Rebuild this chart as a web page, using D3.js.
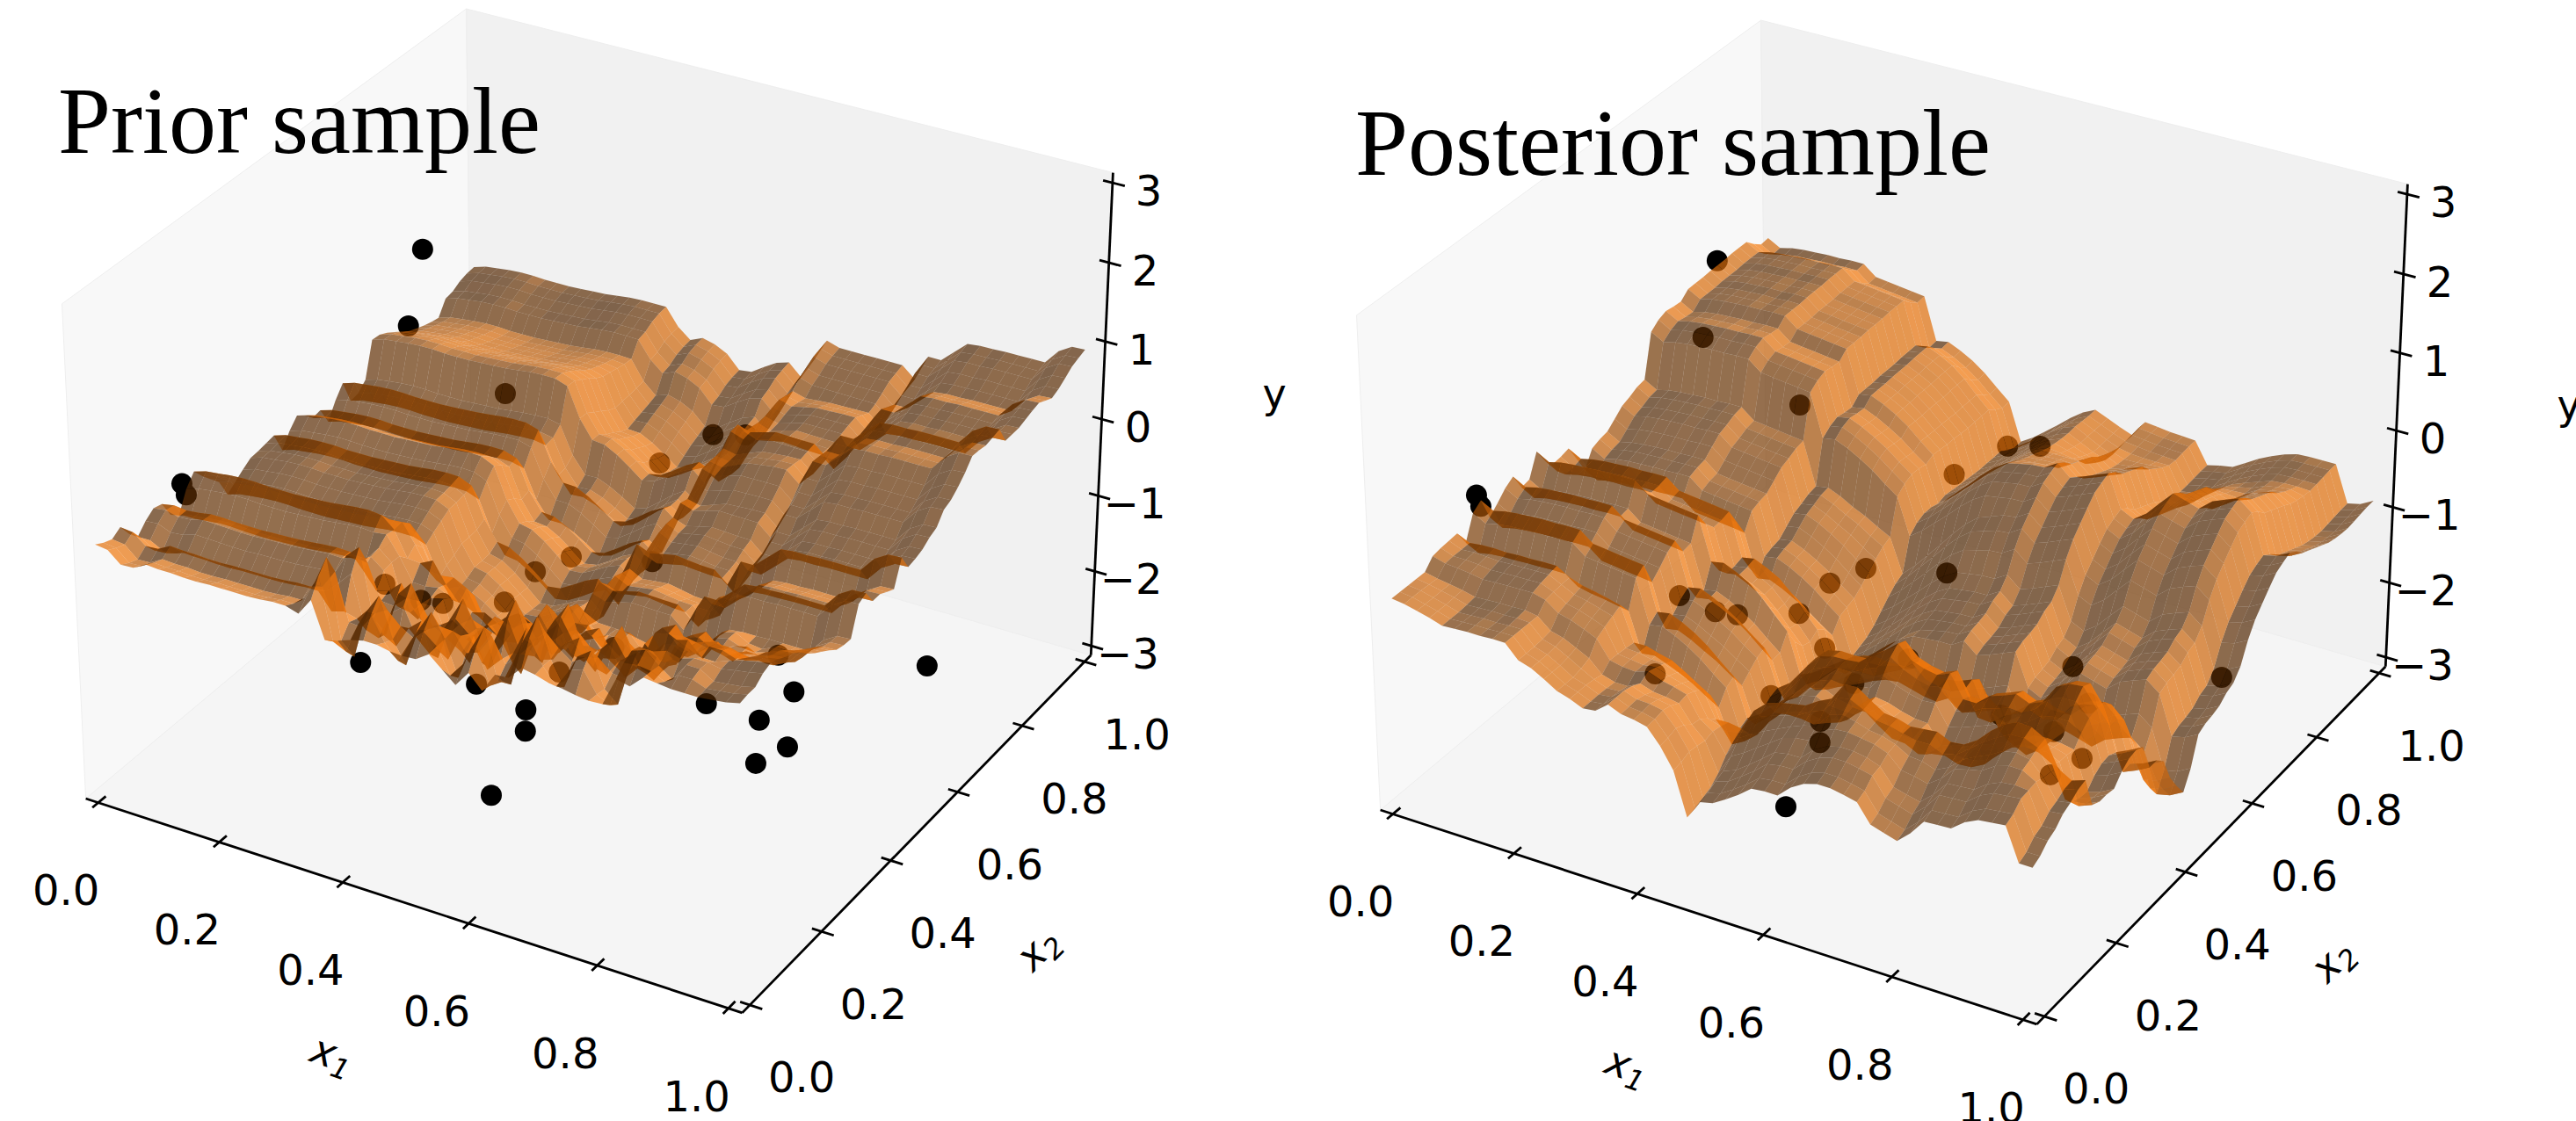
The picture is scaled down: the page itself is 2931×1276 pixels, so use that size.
<!DOCTYPE html>
<html><head><meta charset="utf-8">
<style>
body { margin: 0; background: #fff; overflow: hidden; }
text { fill: #000; font-family: "DejaVu Sans"; }
</style></head>
<body>
<div id="chart"></div>
<script src="https://cdn.jsdelivr.net/npm/d3@7"></script>
<script>
// tick labels
var x1Ticks = [0, 0.2, 0.4, 0.6, 0.8, 1];
var x2Ticks = [0, 0.2, 0.4, 0.6, 0.8, 1];
var yTicks = [-3, -2, -1, 0, 1, 2, 3];

// observed points, same in both panels
var pointX1 = [0.017,0.066,0.231,0.009,0.019,0.461,0.502,0.456,0.249,0.315,0.346,0.435,0.458,0.418,0.583,0.610,0.308,0.475,0.557,0.567,0.594,0.616,0.791,0.873,0.938,0.921,0.879,1.0,0.815,0.496];
var pointX2 = [0.829,0.708,0.702,0.201,0.196,0.901,0.924,0.753,0.341,0.329,0.337,0.439,0.499,0.383,0.508,0.354,0.181,0.212,0.296,0.189,0.142,0.015,0.290,0.289,0.249,0.192,0.376,0.535,0.449,0.321];
var pointY = [0.75,0.3,-0.2,0.1,0,-1,-1,-0.8,-1.2,-1.2,-1.2,-1,-1,-1.2,-0.8,-1.2,-1.4,-1.4,-1.4,-1.4,-1.4,-1.6,-1.2,-1.2,-1.2,-1.2,-1.2,-1.25,-1.2,-1.2];

// surface heights read along the four edges of each 50x50 surface
var priorFront = [.12,.10,-.04,-.03,.06,.05,.05,.04,.04,.05,.05,.05,.05,.06,.08,.08,.03,.25,-.2,-.16,-.1,-.06,-.06,-.09,-.1,-.09,.02,-.12,-.26,-.06,-.23,.02,.03,.2,.17,.12,.1,.07,.05,.06,.42,.38,.54,.52,.5,.5,.5,.52,.54,.58];
var priorBack = [-.15,-.1,-.08,-.06,-.05,-.05,-.06,-.06,-.06,-.05,-.04,-.03,-.01,.01,.02,.02,.02,-.2,-.33,-.26,-.3,-.38,-.55,-.53,-.42,-.32,-.27,-.42,-.15,.15,.1,.1,.1,.1,.1,.1,-.04,.3,.3,.45,.6,.62,.62,.63,.63,.63,.63,.82,.92,.93];
var priorLeft = [.12,.06,.02,.09,-.08,-.2,-.08,0,-.03,-.25,-.34,-.08,.06,-.08,-.2,-.32,-.56,-.48,-.4,-.33,-.32,-.3,-.28,-.55,-.38,-.26,-.34,-.45,-.43,-.66,-.46,-.31,-.62,-.6,-.5,-.05,-.06,-.11,-.18,-.26,-.32,-.36,-.4,-.43,-.45,-.27,-.25,-.19,-.16,-.15];
var priorRight = [.58,.6,.6,.68,.72,.68,.62,.58,.5,.4,.32,.25,.18,.10,.07,.06,.41,.46,.28,.28,.22,.17,.48,.28,.3,.33,.40,.44,.58,.62,.70,.80,.93,.92,.90,.92,.94,.72,.72,.72,.75,.78,.80,.75,.70,.74,.80,.87,.9,.93];
// zigzag of the folded strip just behind the front edge of the prior
var priorChopX1 = [0,0,0,0,0,0,0,0,0,0,0,0,0,0,0,0,.3,.45,-.1,-.3,.25,.45,-.05,-.3,.2,.45,.05,-.25,.3,.4,-.05,-.3,.3,.45,0,-.25,.2,.35,-.05,-.2,.15,.25,-.05,-.15,.1,.1,0,0,0,0];
var priorChopX2 = [0,.6,1,.3,-.6,.6,1,.3,-.5,.4,.7,.2,-.3,.2,.3,0,0,0,0,0,0,0,0,0,0,0,0,0,0,0,0,0,0,0,0,0,0,0,0,0,0,0,0,0,0,0,0,0,0,0];
// the light wall and trough in the middle of the prior
var priorMidX1 = [0,0,0,0,0,0,0,0,0,0,0,0,0,0,0,0,-.05,-.2,-.3,-.38,-.42,-.45,-.4,-.38,-.38,-.36,-.32,-.3,-.2,-.1,-.1,-.05,0,0,0,0,0,0,0,0,0,0,0,0,0,0,0,0,0,0];
var priorMidX2 = [0,0,0,0,0,0,0,0,0,0,0,0,0,0,.3,.6,1,1,1,1,1,1,1,1,1,1,1,1,1,1,1,1,1,1,1,1,1,1,1,1,1,.8,.6,.4,.2,0,0,0,0,0];

var postFront = [-.42,-.44,-.48,-.52,-.57,-.56,-.55,-.55,-.54,-.54,-.71,-.76,-.85,-.95,-1.0,-1.07,-1.05,-.92,-.99,-1.01,-1.05,-1.24,-1.5,-2.05,-1.8,-1.76,-1.66,-1.55,-1.42,-1.4,-1.4,-1.25,-1.15,-1.1,-1.1,-1.13,-1.17,-1.4,-1.45,-1.5,-1.35,-1.15,-1.14,-1.13,-1.0,-.92,-.9,-.88,-1.3,-1.3];
var postBack = [.39,.3,.34,.36,.37,.38,.38,.39,.39,.26,.24,.22,.2,.18,-.37,-.34,-.41,-.5,-.62,-.77,-.91,-1.4,-1.3,-1.17,-1.04,-.9,-.78,-.7,-.77,-.84,-.9,-.68,-.7,-.72,-.73,-.74,-1.02,-.98,-.95,-.85,-.75,-.67,-.6,-.55,-.54,-.54,-.54,-1.01,-.97,-.88];
var postLeft = [-.42,-.42,-.42,-.42,-.42,-.30,-.28,-.27,-.26,-.46,-.16,-.08,-.38,-.28,-.17,-.1,-.32,-.3,-.02,-.22,-.34,-.33,-.3,-.52,-.74,-.54,-.5,-.48,-.39,-.3,-.26,-.21,-.19,.36,.44,.48,.46,.45,.54,.54,.54,.55,.55,.55,.56,.56,.56,.46,.38,.39];
var postRight = [-1.3,-1.25,-1.15,-1.1,-1.0,-.95,-.88,-.85,-1.25,-1.3,-1.3,-1.32,-1.2,-1.12,-1.1,-1.15,-1.5,-1.5,-1.6,-1.9,-2.1,-2.27,-2.05,-1.7,-1.65,-1.63,-1.6,-1.52,-1.48,-1.35,-1.1,-.92,-.8,-.68,-.57,-.52,-.48,-.55,-.65,-.7,-.75,-.8,-.85,-.88,-.9,-.91,-.9,-.89,-.88,-.88];
// terrace teeth on the right half of the posterior
var postTeethX1 = [0,0,0,0,0,0,0,0,0,0,0,0,0,0,0,0,0,0,0,0,0,0,0,0,0,0,0,0,.08,.16,.22,.1,-.02,.06,.14,.22,.08,-.04,.05,.13,.2,.07,-.05,.04,.1,.16,.03,0,0,0];
var postTeethX2 = [0,0,0,0,0,0,0,0,0,0,0,0,.3,.6,1,1,1,1,1,1,1,1,1,1,1,1,1,1,1,1,1,1,1,1,1,1,1,1,1,1,1,1,.7,.5,.3,.1,0,0,0,0];
// blocky folds behind the front edge of the posterior
var postBumpX1 = [0,0,0,0,0,0,0,0,0,0,0,0,0,0,0,0,0,0,0,0,0,0,0,.06,.12,.12,.02,-.08,-.1,0,.1,.14,.12,0,-.1,-.1,.04,.12,.14,.02,-.08,-.1,.02,.12,.14,.1,0,-.04,0,0];
var postBumpX2 = [0,0,0,0,.2,.5,.8,1,1,.8,.5,.3,.5,.8,1,1,.8,.4,.2,0,0,0,0,0,0,0,0,0,0,0,0,0,0,0,0,0,0,0,0,0,0,0,0,0,0,0,0,0,0,0];

var W = 2931, H = 1276;
var svg = d3.select("#chart").append("svg").attr("width", W).attr("height", H).style("display", "block");

// camera: elevation 30, azimuth -60, distance 10, box 4:4:3
var az = -60 * Math.PI / 180, el = 30 * Math.PI / 180, dist = 10;
var nv = [Math.cos(el) * Math.cos(az), Math.cos(el) * Math.sin(az), Math.sin(el)];
var uv = [-nv[1] / Math.hypot(nv[0], nv[1]), nv[0] / Math.hypot(nv[0], nv[1]), 0];
var vv = [nv[1] * uv[2] - nv[2] * uv[1], nv[2] * uv[0] - nv[0] * uv[2], nv[0] * uv[1] - nv[1] * uv[0]];
var boxXY = 1.19, boxZ = 0.8926;

// data to unit box (matplotlib keeps a small inset)
var inset = 1 / 50;
var x1Box = d3.scaleLinear().domain([0, 1]).range([inset, 1 - inset]);
var x2Box = d3.scaleLinear().domain([0, 1]).range([inset, 1 - inset]);
var yBox = d3.scaleLinear().domain([-3, 3]).range([inset, 1 - inset]);

var unit = d3.range(50).map(function (i) { return i / 49; });

function blend(t, lo, hi) { return Math.max(0, Math.min(1, (t - lo) / (hi - lo))); }

// 50x50 table built from the read edge profiles and the read detail strips
function buildSurface(front, back, left, right, pLo, pHi, qLo, qHi, details) {
    var c00 = front[0], c10 = front[49], c01 = back[0], c11 = back[49];
    return unit.map(function (v, j) {
        return unit.map(function (u, i) {
            var p = blend(u, pLo, pHi), q = blend(v, qLo, qHi);
            var z = (1 - q) * front[i] + q * back[i] + (1 - p) * left[j] + p * right[j]
                - ((1 - p) * (1 - q) * c00 + p * (1 - q) * c10 + (1 - p) * q * c01 + p * q * c11);
            details.forEach(function (t) { z += t[0][i] * t[1][j]; });
            return z;
        });
    });
}

function drawPanel(cfg) {
    var g = svg.append("g").attr("transform", "translate(" + cfg.dx + "," + cfg.dy + ")");
    var sx = d3.scaleLinear().domain([0, 1]).range([680, 680 + 7190]);
    var sy = d3.scaleLinear().domain([0, 1]).range([554, 554 - 7190]);

    function project(fx, fy, fz) {
        var p = [(fx - .5) * boxXY, (fy - .5) * boxXY, (fz - .5) * boxZ];
        var d = dist - (nv[0] * p[0] + nv[1] * p[1] + nv[2] * p[2]);
        return {
            x: sx((uv[0] * p[0] + uv[1] * p[1]) / d),
            y: sy((vv[0] * p[0] + vv[1] * p[1] + vv[2] * p[2]) / d),
            d: d
        };
    }
    function toData(a, b, c) { return project(x1Box(a), x2Box(b), yBox(c)); }
    var line = d3.line().x(function (d) { return d.x; }).y(function (d) { return d.y; });

    // panes
    var panes = [
        { c: [[0, 0, 0], [1, 0, 0], [1, 1, 0], [0, 1, 0]], fill: "#f5f5f5" },
        { c: [[0, 0, 0], [0, 1, 0], [0, 1, 1], [0, 0, 1]], fill: "#f8f8f8" },
        { c: [[0, 1, 0], [1, 1, 0], [1, 1, 1], [0, 1, 1]], fill: "#f1f1f1" }
    ];
    g.selectAll("path.pane").data(panes).enter().append("path").attr("class", "pane")
        .attr("d", function (d) { return line(d.c.map(function (k) { return project(k[0], k[1], k[2]); })) + "Z"; })
        .attr("fill", function (d) { return d.fill; })
        .attr("stroke", "#eeeeee").attr("stroke-width", 1);

    // axis lines
    var axisLines = [[[0, 0, 0], [1, 0, 0]], [[1, 0, 0], [1, 1, 0]], [[1, 1, 0], [1, 1, 1]]];
    g.selectAll("path.axis").data(axisLines).enter().append("path").attr("class", "axis")
        .attr("d", function (d) { return line(d.map(function (k) { return project(k[0], k[1], k[2]); })); })
        .attr("fill", "none").attr("stroke", "#000").attr("stroke-width", 2.8);

    // ticks and tick labels
    function ticks(values, from, to, dx, dy, fmt) {
        g.selectAll(null).data(values).enter().append("path")
            .attr("d", function (d) { return line([from(d), to(d)]); })
            .attr("stroke", "#000").attr("stroke-width", 2.8).attr("fill", "none");
        g.selectAll(null).data(values).enter().append("text")
            .attr("x", function (d) { return from(d).x + dx; })
            .attr("y", function (d) { return from(d).y + dy; })
            .attr("text-anchor", "middle").attr("dominant-baseline", "central")
            .style("font-size", "48px").text(fmt);
    }
    var f1 = d3.format(".1f");
    ticks(x1Ticks,
        function (d) { return project(x1Box(d), -.014, 0); },
        function (d) { return project(x1Box(d), .018, 0); }, -30, 94, f1);
    ticks(x2Ticks,
        function (d) { return project(1 - .014, x2Box(d), 0); },
        function (d) { return project(1 + .018, x2Box(d), 0); }, 70, 86, f1);
    ticks(yTicks,
        function (d) { return project(1 - .014, 1, yBox(d)); },
        function (d) { return project(1 + .018, 1, yBox(d)); }, 52, 12, function (d) { return d3.format("d")(d).replace("-", "\u2212"); });

    // axis labels
    function axisLabel(x, y, rot, main, sub) {
        var t = g.append("text").attr("transform", "translate(" + x + "," + y + ") rotate(" + rot + ")")
            .attr("text-anchor", "middle").style("font-size", "46px").style("font-style", "italic");
        t.append("tspan").text(main);
        t.append("tspan").attr("dy", 8).style("font-size", "32px").text(sub);
    }
    axisLabel(373, 1215, 19, "x", "1");
    axisLabel(1192, 1091, -45, "x", "2");
    g.append("text").attr("x", 1450).attr("y", 464).attr("text-anchor", "middle").style("font-size", "46px").text("y");

    // points sit below the surface in draw order
    g.selectAll("circle").data(d3.range(pointX1.length)).enter().append("circle")
        .attr("cx", function (i) { return toData(pointX1[i], pointX2[i], pointY[i]).x; })
        .attr("cy", function (i) { return toData(pointX1[i], pointX2[i], pointY[i]).y; })
        .attr("r", 12).attr("fill", "#000");

    // surface cells: light from az 225 / alt 19.47, far cells first
    var cells = [];
    var grid = cfg.grid;
    var lightDir = [-2 / 3, -2 / 3, 1 / 3];
    for (var j = 0; j < 49; j++) {
        for (var i = 0; i < 49; i++) {
            var q = [[i, j], [i + 1, j], [i + 1, j + 1], [i, j + 1]].map(function (k) {
                return { a: unit[k[0]], b: unit[k[1]], z: grid[k[1]][k[0]] };
            });
            var e1 = [q[2].a - q[0].a, q[2].b - q[0].b, q[2].z - q[0].z];
            var e2 = [q[3].a - q[1].a, q[3].b - q[1].b, q[3].z - q[1].z];
            var n = [e1[1] * e2[2] - e1[2] * e2[1], e1[2] * e2[0] - e1[0] * e2[2], e1[0] * e2[1] - e1[1] * e2[0]];
            var len = Math.hypot(n[0], n[1], n[2]);
            // orientation of the source mesh makes this normal point downward
            var shade = -(n[0] * lightDir[0] + n[1] * lightDir[1] + n[2] * lightDir[2]) / len;
            var level = (shade + 1) / 2 * 0.7 + 0.3;
            var pts = q.map(function (c) { return toData(c.a, c.b, c.z); });
            cells.push({ pts: pts, depth: d3.mean(pts, function (c) { return c.d; }), level: level });
        }
    }
    cells.sort(function (a, b) { return b.depth - a.depth; });
    g.selectAll("path.cell").data(cells).enter().append("path").attr("class", "cell")
        .attr("d", function (d) { return line(d.pts) + "Z"; })
        .attr("fill", function (d) { return d3.rgb(255 * d.level, 127 * d.level, 14 * d.level); })
        .attr("fill-opacity", 0.7);

    // panel title
    g.append("text").attr("x", cfg.titleX).attr("y", cfg.titleY)
        .style("font-family", "Liberation Serif").style("font-size", "108px").text(cfg.title);
}

drawPanel({
    dx: 0, dy: 0, title: "Prior sample", titleX: 66, titleY: 174,
    grid: buildSurface(priorFront, priorBack, priorLeft, priorRight, 0.3, 0.7, 0.05, 0.2,
        [[priorChopX1, priorChopX2], [priorMidX1, priorMidX2]])
});
drawPanel({
    dx: 1473, dy: 13, title: "Posterior sample", titleX: 69, titleY: 186,
    grid: buildSurface(postFront, postBack, postLeft, postRight, 0.35, 0.6, 0.05, 0.2,
        [[postTeethX1, postTeethX2], [postBumpX1, postBumpX2]])
});
</script>
</body></html>
